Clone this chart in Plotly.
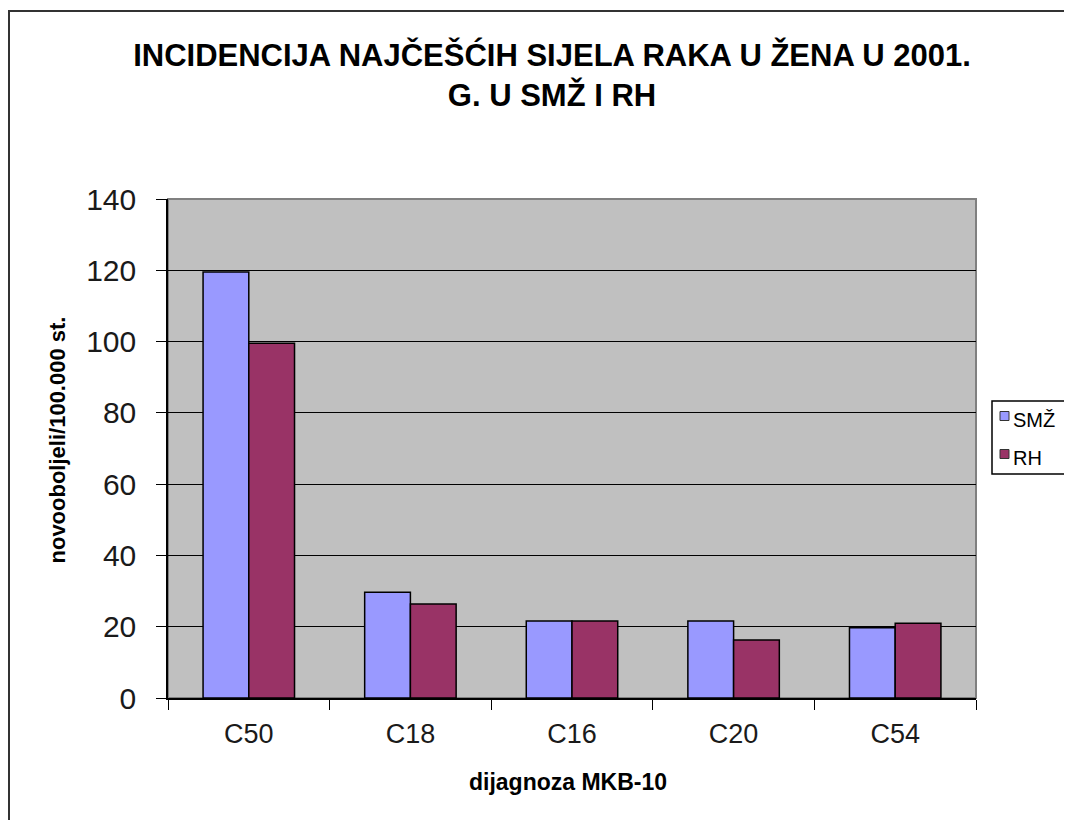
import plotly.graph_objects as go

# data
categories = ["C50", "C18", "C16", "C20", "C54"]
series_names = ["SMŽ", "RH"]
smz = [119.5, 29.7, 21.6, 21.6, 19.7]
rh = [99.5, 26.4, 21.6, 16.3, 21.0]
colors = ["#9999FF", "#993366"]

# the page body adds an 8px offset; positions below are in window pixels
OFF = 8
L, R, T, B = 168, 976, 199, 698  # plot area in window pixels
W, H = 1064, 812


def px(x):
    return (x - L) / (R - L)


def py(y):
    return (B - y) / (B - T)


font_main = "Liberation Sans, Arial, sans-serif"

fig = go.Figure()
for name, vals, col in zip(series_names, [smz, rh], colors):
    fig.add_trace(go.Bar(
        x=categories, y=vals, name=name,
        marker=dict(color=col, line=dict(color="black", width=1.5)),
    ))

fig.update_layout(
    width=W,
    height=H,
    margin=dict(l=L - OFF, r=W - (R - OFF), t=T - OFF, b=H - (B - OFF)),
    paper_bgcolor="white",
    plot_bgcolor="#C0C0C0",
    barmode="group",
    bargap=0.434,
    bargroupgap=0,
    font=dict(family=font_main, color="#1a1a1a"),
    title=dict(
        text="<b>INCIDENCIJA NAJČEŠĆIH SIJELA RAKA U ŽENA U 2001.<br>G. U SMŽ I RH</b>",
        font=dict(size=31, color="black"),
        x=(552 - OFF) / W, xref="container", xanchor="center",
        y=1 - (66 - OFF) / H, yref="container", yanchor="top",
    ),
    showlegend=False,
)

fig.update_xaxes(
    showline=True, linecolor="black", linewidth=1.5,
    ticks="outside", tickson="boundaries", ticklen=10, tickcolor="black",
    tickfont=dict(size=27), ticklabelstandoff=11,
    showgrid=False,
)
fig.update_yaxes(
    range=[0, 140], dtick=20,
    showline=True, linecolor="black", linewidth=1.5,
    ticks="outside", ticklen=10, tickcolor="black",
    tickfont=dict(size=30), ticklabelstandoff=14,
    showgrid=True, gridcolor="black", gridwidth=1,
    zeroline=False,
)

# axis titles
fig.add_annotation(text="<b>dijagnoza MKB-10</b>", xref="paper", yref="paper",
                   x=px(568), y=py(797), showarrow=False,
                   font=dict(size=23, color="black"))
fig.add_annotation(text="<b>novooboljeli/100.000 st.</b>", xref="paper", yref="paper",
                   x=px(42), y=py(440), showarrow=False, textangle=-90,
                   font=dict(size=22, color="black"))

# gray frame of the plot area and the outer chart border
fig.add_shape(type="rect", xref="paper", yref="paper", x0=0, y0=0, x1=1, y1=1,
              line=dict(color="#808080", width=2), layer="below")
fig.add_shape(type="rect", xref="paper", yref="paper",
              x0=px(9), x1=px(1100), y0=py(850), y1=py(11),
              line=dict(color="#333333", width=2))

# legend box, drawn by hand so it can run off the right edge like the original
fig.add_shape(type="rect", xref="paper", yref="paper",
              x0=px(992), x1=px(1100), y0=py(474), y1=py(401),
              line=dict(color="black", width=1.5), fillcolor="white")
for i, (name, col) in enumerate(zip(series_names, colors)):
    cy = 416 + i * 38
    fig.add_shape(type="rect", xref="paper", yref="paper",
                  x0=px(1000), x1=px(1009), y0=py(cy + 4.5), y1=py(cy - 4.5),
                  line=dict(color="#333333", width=1), fillcolor=col)
    fig.add_annotation(text=name, xref="paper", yref="paper",
                       x=px(1011), y=py(cy + 4), xanchor="left", yanchor="middle",
                       showarrow=False, font=dict(size=20, color="black"))

fig.write_html("out.html")
